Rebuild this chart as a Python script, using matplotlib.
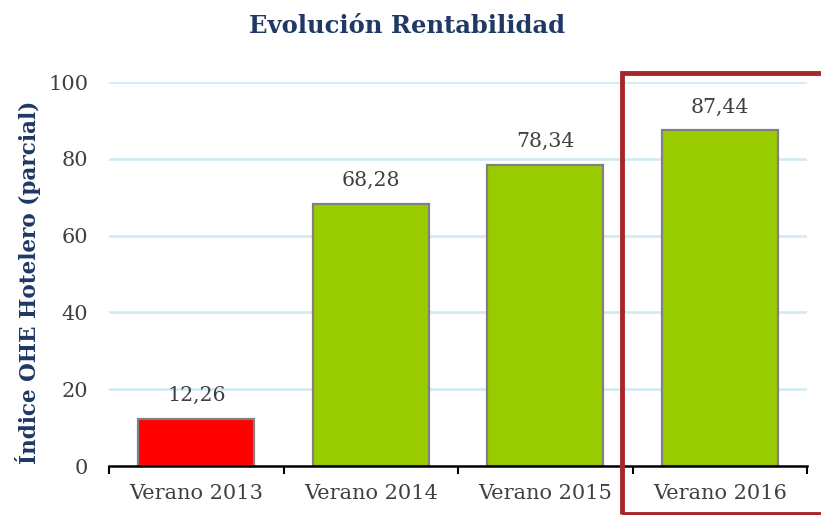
import matplotlib.pyplot as plt
from matplotlib.patches import Rectangle

categories = ["Verano 2013", "Verano 2014", "Verano 2015", "Verano 2016"]
values = [12.26, 68.28, 78.34, 87.44]
value_labels = ["12,26", "68,28", "78,34", "87,44"]
bar_colors = ["#FF0000", "#99CC00", "#99CC00", "#99CC00"]
yticks = [0, 20, 40, 60, 80, 100]

W, H = 821, 515
fig = plt.figure(figsize=(W / 100, H / 100), dpi=100)
serif = ["DejaVu Serif"]

# axes placed in pixel terms: x 109..807, y(0)=466, y(100)=82
ax = fig.add_axes([109 / W, 1 - 466 / H, (807 - 109) / W, (466 - 82) / H])
ax.set_xlim(-0.5, len(categories) - 0.5)
ax.set_ylim(0, 100)

x = list(range(len(categories)))
ax.bar(x, values, width=0.665, color=bar_colors, edgecolor="#808080",
       linewidth=1.6, zorder=3)

for xi, v, lab in zip(x, values, value_labels):
    ax.text(xi, v + 3.6, lab, ha="center", va="bottom", fontsize=14.8,
            color="#404040", family=serif)

# gridlines
ax.set_yticks(yticks)
ax.set_yticklabels([str(t) for t in yticks], fontsize=15, color="#404040",
                   family=serif)
for t in yticks[1:]:
    ax.axhline(t, color="#D5EBF3", linewidth=2, zorder=1)
ax.tick_params(axis="y", length=0, pad=15)

# category ticks sit between bars
ax.set_xticks([i - 0.5 for i in range(len(categories) + 1)])
ax.set_xticklabels([])
ax.set_xticks(x, minor=True)
ax.set_xticklabels(categories, minor=True, fontsize=15, color="#404040",
                   family=serif)
ax.tick_params(axis="x", which="major", length=6, width=1.5, color="black",
               direction="out")
ax.tick_params(axis="x", which="minor", length=0, pad=13)

for s in ["top", "right", "left"]:
    ax.spines[s].set_visible(False)
ax.spines["bottom"].set_linewidth(1.8)
ax.spines["bottom"].set_color("black")
ax.spines["bottom"].set_zorder(4)

fig.text(407 / W, 1 - 26 / H, "Evolución Rentabilidad", ha="center",
         va="center", fontsize=17.5, fontweight="bold", color="#1F3864",
         family=serif)
fig.text(28 / W, 1 - 282 / H, "Índice OHE Hotelero (parcial)", ha="center",
         va="center", rotation=90, fontsize=15.5, fontweight="bold",
         color="#1F3864", family=serif)

# highlight frame around the latest period
fig.patches.append(Rectangle((622 / W, 1 - 514 / H), (840 - 622) / W,
                             (514 - 73) / H, transform=fig.transFigure,
                             fill=False, edgecolor="#A8262A", linewidth=3.5,
                             zorder=10))

fig.savefig("out.png", dpi=100)
